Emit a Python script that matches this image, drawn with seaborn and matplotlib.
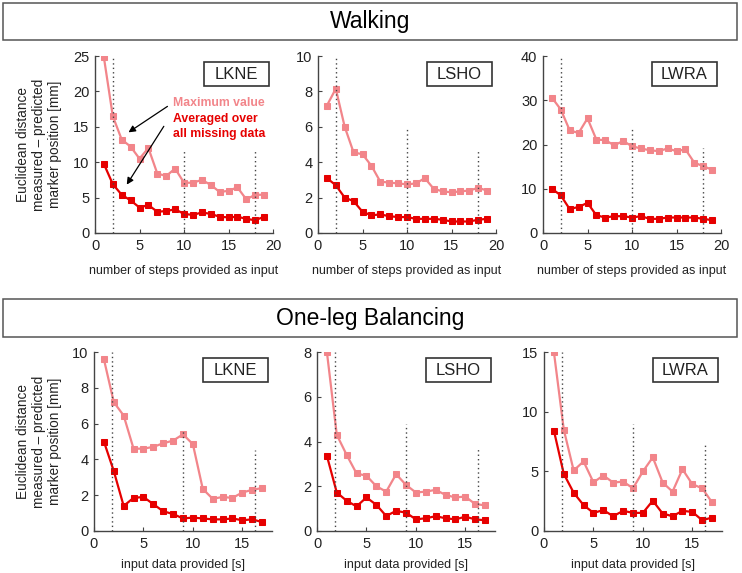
import numpy as np
import pandas as pd
import matplotlib
matplotlib.use("Agg")
import matplotlib.pyplot as plt
from matplotlib.patches import Rectangle
import seaborn as sns

# ---- data ----
steps_walk = list(range(1, 20))
steps_bal = list(range(1, 18))

walk_lkne_max = [24.8, 16.5, 13.2, 12.2, 10.5, 12.0, 8.4, 8.05, 9.1, 7.1, 7.1, 7.5, 6.8, 5.8, 5.95, 6.45, 4.75, 5.4, 5.4]
walk_lkne_avg = [9.75, 6.9, 5.4, 4.6, 3.6, 3.95, 3.0, 3.1, 3.35, 2.7, 2.55, 2.9, 2.7, 2.3, 2.2, 2.3, 2.0, 1.8, 2.3]
walk_lsho_max = [7.2, 8.15, 6.0, 4.55, 4.45, 3.8, 2.9, 2.85, 2.8, 2.75, 2.8, 3.1, 2.5, 2.35, 2.3, 2.35, 2.4, 2.55, 2.4]
walk_lsho_avg = [3.1, 2.7, 2.0, 1.8, 1.2, 1.0, 1.05, 0.95, 0.9, 0.9, 0.8, 0.8, 0.8, 0.75, 0.65, 0.65, 0.65, 0.75, 0.8]
walk_lwra_max = [30.6, 27.9, 23.2, 22.6, 25.9, 21.1, 21.0, 19.8, 20.8, 19.6, 19.1, 18.7, 18.5, 19.1, 18.5, 18.9, 15.9, 15.1, 14.3]
walk_lwra_avg = [10.0, 8.5, 5.4, 5.9, 6.8, 4.0, 3.5, 3.8, 3.8, 3.5, 3.8, 3.2, 3.2, 3.5, 3.5, 3.5, 3.5, 3.2, 2.9]

bal_lkne_max = [9.6, 7.2, 6.45, 4.6, 4.6, 4.7, 4.9, 5.05, 5.4, 4.85, 2.35, 1.8, 1.9, 1.85, 2.15, 2.3, 2.4]
bal_lkne_avg = [5.0, 3.35, 1.4, 1.85, 1.9, 1.5, 1.1, 0.95, 0.7, 0.75, 0.7, 0.65, 0.65, 0.7, 0.6, 0.65, 0.5]
bal_lsho_max = [8.0, 4.3, 3.4, 2.57, 2.47, 2.0, 1.76, 2.54, 2.06, 1.72, 1.76, 1.84, 1.61, 1.5, 1.54, 1.2, 1.15]
bal_lsho_avg = [3.36, 1.72, 1.35, 1.1, 1.5, 1.17, 0.67, 0.9, 0.82, 0.52, 0.57, 0.66, 0.57, 0.52, 0.64, 0.52, 0.48]
bal_lwra_max = [15.0, 8.5, 5.07, 5.83, 4.08, 4.65, 4.06, 4.14, 3.58, 4.99, 6.17, 4.06, 3.3, 5.18, 3.92, 3.58, 2.39]
bal_lwra_avg = [8.42, 4.79, 3.21, 2.17, 1.52, 1.75, 1.24, 1.69, 1.52, 1.52, 2.54, 1.46, 1.24, 1.69, 1.6, 0.9, 1.13]

markers = ["LKNE", "LSHO", "LWRA"]
walk_dotted_x = [2, 10, 18]
bal_dotted_x = [1.8, 9.0, 16.3]
walk_yticks = [[0, 5, 10, 15, 20, 25], [0, 2, 4, 6, 8, 10], [0, 10, 20, 30, 40]]
bal_yticks = [[0, 2, 4, 6, 8, 10], [0, 2, 4, 6, 8], [0, 5, 10, 15]]

light = "#F2858A"
dark = "#E60000"
txt = "#222222"

sns.set_theme(style="white")
plt.rcParams['font.family'] = ['Liberation Sans', 'DejaVu Sans']

fig = plt.figure(figsize=(7.42, 5.73), dpi=100)

W, H = 742.0, 573.0


def header(y_top, y_bot, label):
    fig.patches.append(Rectangle((3 / W, 1 - y_bot / H), 734 / W, (y_bot - y_top) / H,
                                 transform=fig.transFigure, fill=False,
                                 edgecolor="#555555", lw=1.1))
    fig.text(370 / W, 1 - (y_top + y_bot) / 2 / H, label, ha="center", va="center",
             fontsize=16.5, color="black")


header(3, 40, "Walking")
header(299, 337, "One-leg Balancing")


def panel(left_px, bot_px, h_px, x, ymax_vals, yavg_vals, xmax, yticks, xticks,
          dotted, dotted_h, name, xlabel, lpad):
    ax = fig.add_axes([left_px / W, 1 - bot_px / H, 178 / W, h_px / H])
    sns.lineplot(x=x, y=ymax_vals, ax=ax, color=light, marker="s", markersize=5,
                 markeredgecolor=light, linewidth=1.6)
    sns.lineplot(x=x, y=yavg_vals, ax=ax, color=dark, marker="s", markersize=5,
                 markeredgecolor=dark, linewidth=1.6)
    for xv, hv in zip(dotted, dotted_h):
        ax.axvline(xv, ymin=0, ymax=hv, ls=(0, (1, 2.2)), color="#444444", lw=1.0)
    ax.set_xlim(0, xmax)
    ax.set_ylim(0, yticks[-1])
    ax.set_xticks(xticks)
    ax.set_yticks(yticks)
    for s in ["top", "right"]:
        ax.spines[s].set_visible(False)
    for s in ["left", "bottom"]:
        ax.spines[s].set_color("#444444")
        ax.spines[s].set_linewidth(1.0)
    ax.tick_params(direction="in", length=3, width=0.8, color="#444444",
                   labelsize=10.5, labelcolor=txt, pad=4, left=True, bottom=True)
    ax.set_xlabel(xlabel, fontsize=9, color=txt, labelpad=lpad)
    ax.add_patch(Rectangle((0.61, 0.83), 0.365, 0.135, transform=ax.transAxes,
                           fill=False, edgecolor="#333333", lw=1.2, clip_on=False))
    ax.text(0.7925, 0.8975, name, transform=ax.transAxes, ha="center", va="center",
            fontsize=12, color=txt)
    return ax


walk_sets = [(walk_lkne_max, walk_lkne_avg), (walk_lsho_max, walk_lsho_avg), (walk_lwra_max, walk_lwra_avg)]
bal_sets = [(bal_lkne_max, bal_lkne_avg), (bal_lsho_max, bal_lsho_avg), (bal_lwra_max, bal_lwra_avg)]
walk_lefts = [95, 318, 543]
bal_lefts = [94, 317, 544]
walk_dh = [[1.0, 0.47, 0.47], [1.0, 0.6, 0.47], [1.0, 0.6, 0.48]]
bal_dh = [[1.0, 0.57, 0.45], [1.0, 0.6, 0.47], [1.0, 0.6, 0.48]]

axes_top = []
for i in range(3):
    ax = panel(walk_lefts[i], 233, 177, steps_walk, walk_sets[i][0], walk_sets[i][1], 20,
               walk_yticks[i], [0, 5, 10, 15, 20], walk_dotted_x, walk_dh[i], markers[i],
               "number of steps provided as input", 9)
    axes_top.append(ax)
for i in range(3):
    panel(bal_lefts[i], 531, 179, steps_bal, bal_sets[i][0], bal_sets[i][1], 18,
          bal_yticks[i], [0, 5, 10, 15], bal_dotted_x, bal_dh[i], markers[i],
          "input data provided [s]", 6)

# legend-like annotation in the first panel
ax0 = axes_top[0]
ax0.text(8.8, 18.4, "Maximum value", color=light, fontsize=8.8, fontweight="bold", va="center")
ax0.text(8.8, 16.1, "Averaged over", color=dark, fontsize=8.8, fontweight="bold", va="center")
ax0.text(8.8, 14.0, "all missing data", color=dark, fontsize=8.8, fontweight="bold", va="center")
ax0.annotate("", xy=(3.5, 14.0), xytext=(8.4, 18.1),
             arrowprops=dict(arrowstyle="-|>", color="black", lw=0.9, mutation_scale=10))
ax0.annotate("", xy=(3.4, 6.5), xytext=(7.9, 15.4),
             arrowprops=dict(arrowstyle="-|>", color="black", lw=0.9, mutation_scale=10))

ylab = "Euclidean distance\nmeasured \u2013 predicted\nmarker position [mm]"
fig.text(39 / W, 1 - 144.5 / H, ylab, rotation=90, ha="center", va="center",
         multialignment="center", fontsize=9.8, color=txt, linespacing=1.15)
fig.text(39 / W, 1 - 441.5 / H, ylab, rotation=90, ha="center", va="center",
         multialignment="center", fontsize=9.8, color=txt, linespacing=1.15)

fig.savefig("out.png", dpi=100)
